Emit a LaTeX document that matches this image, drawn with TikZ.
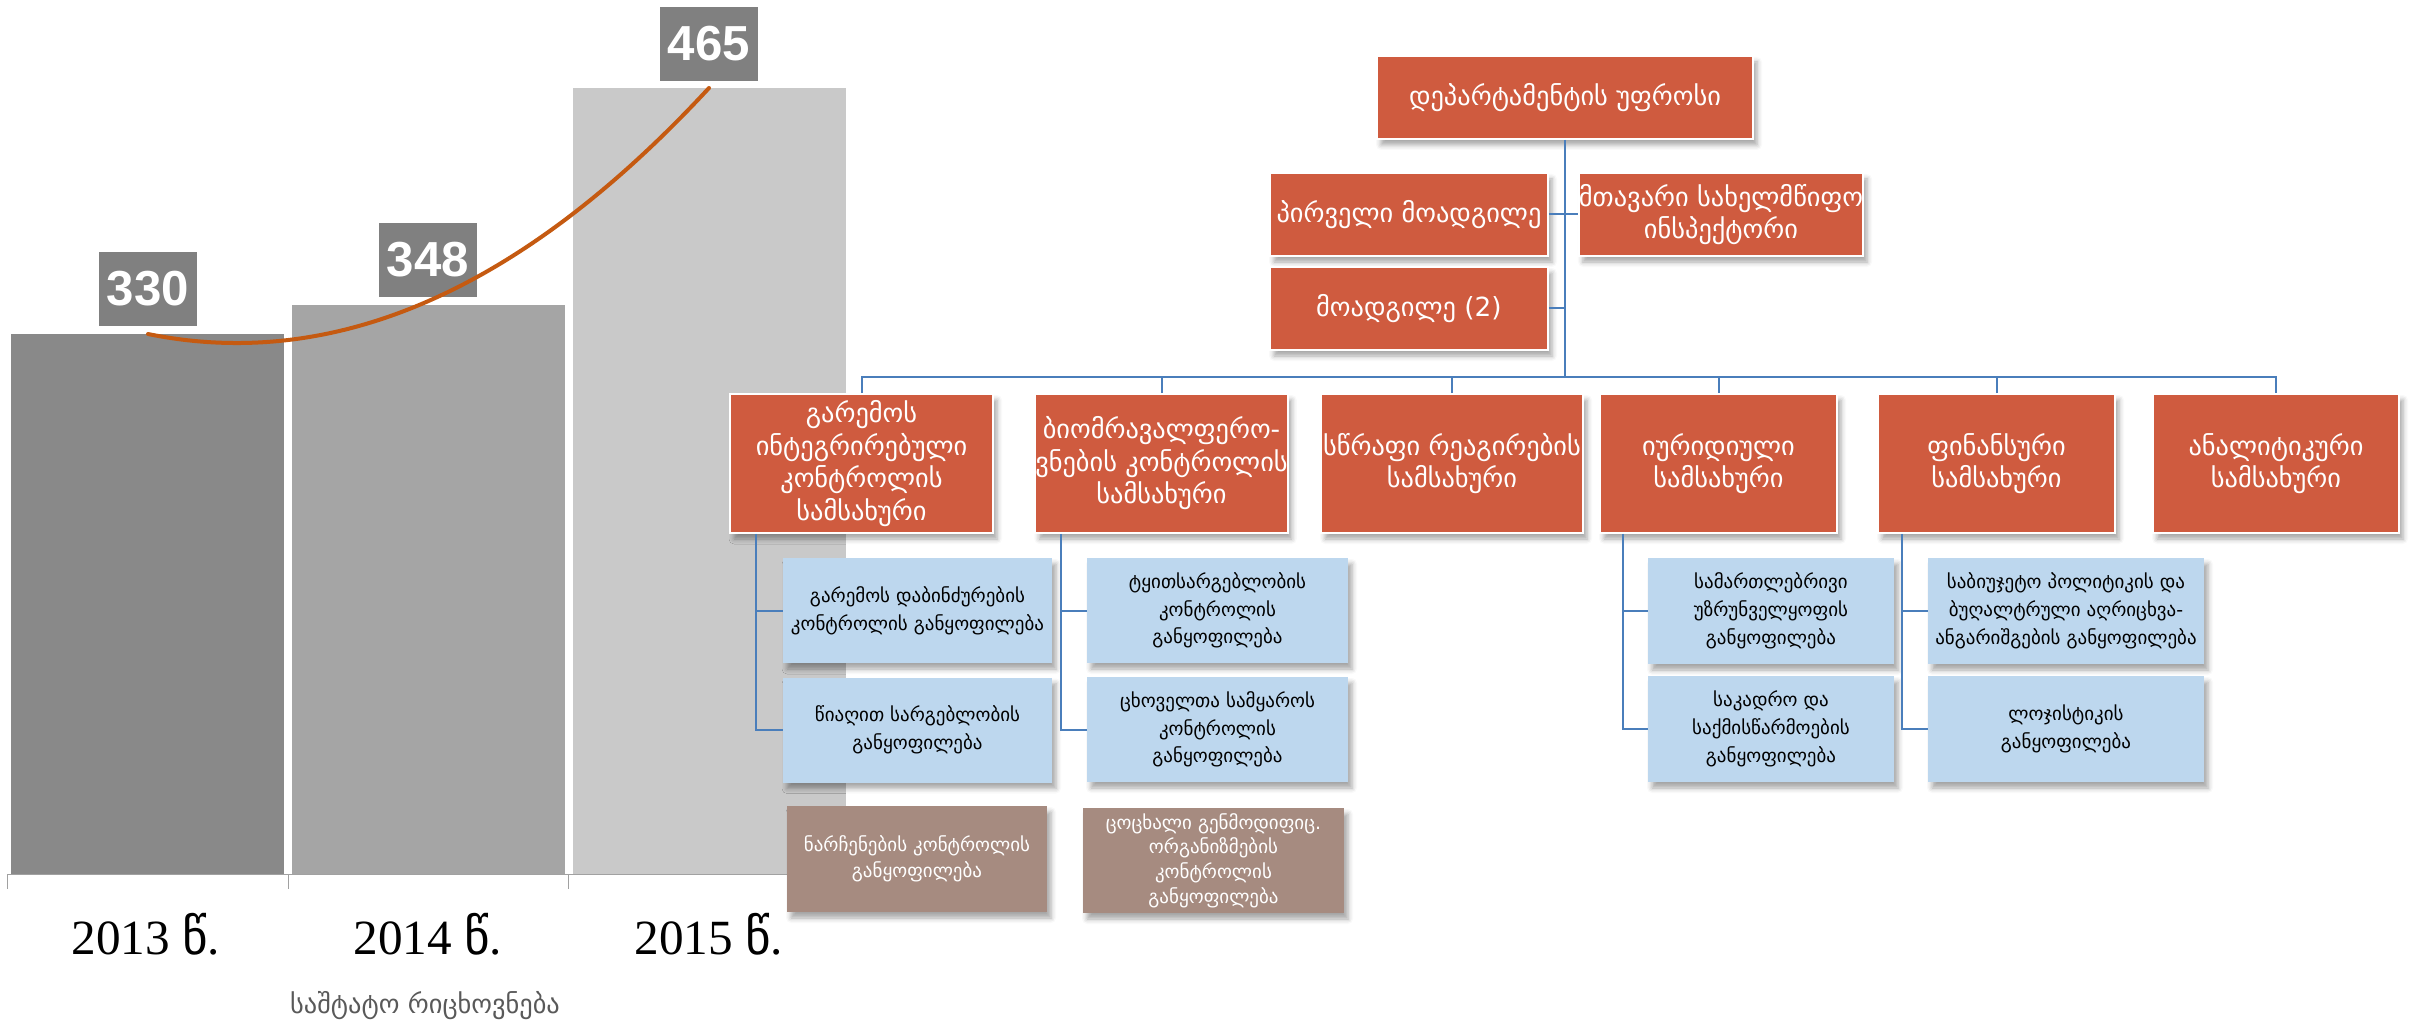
\documentclass[tikz,border=0pt]{standalone}
\usepackage{fontspec}
\usepackage{tikz}
\usetikzlibrary{calc,shadows.blur}
\setmainfont{Liberation Serif}
\newfontfamily\geo{DejaVu Sans}
\newfontfamily\numfont{Liberation Sans}
\definecolor{boxred}{HTML}{CF5B3F}
\definecolor{boxblue}{HTML}{BDD7EE}
\definecolor{boxbrown}{HTML}{A68B80}
\definecolor{linkblue}{HTML}{4A7EBB}
\definecolor{trendorange}{HTML}{C55A11}
\definecolor{barone}{HTML}{898989}
\definecolor{bartwo}{HTML}{A5A5A5}
\definecolor{barthree}{HTML}{C9C9C9}
\definecolor{valgrey}{HTML}{808080}
\definecolor{captiongrey}{HTML}{595959}

\begin{document}
\begin{tikzpicture}[x=0.2mm,y=-0.2mm,
    wh/.style 2 args={minimum width=#1*0.2mm,minimum height=#2*0.2mm},
    unit/.style={align=center,inner sep=0pt,
      blur shadow={shadow xshift=0.8mm,shadow yshift=-1.2mm,shadow blur radius=1mm,shadow opacity=35}},
    redbox/.style={unit,fill=boxred,draw=white,line width=0.35mm,text=white,font=\geo\fontsize{15}{18.5}\selectfont},
    bluebox/.style={unit,fill=boxblue,text=black,font=\geo\fontsize{10.8}{15.8}\selectfont},
    brownbox/.style={unit,fill=boxbrown,text=white,font=\geo\fontsize{10.8}{15}\selectfont},
    valbox/.style={fill=valgrey,text=white,wh={98}{74},inner sep=0pt,font=\numfont\bfseries\fontsize{28}{30}\selectfont},
    year/.style={anchor=base,font=\fontsize{28}{30}\selectfont},
    link/.style={draw=linkblue,line width=0.4mm},
    trend/.style={draw=trendorange,line width=0.8mm,line cap=round}]
\useasboundingbox (0,0) rectangle (2414,1025);

\fill[barone] (11,334) rectangle (284,874);
\fill[bartwo] (292,305) rectangle (565,874);
\fill[barthree] (573,88) rectangle (846,874);
\draw[barthree!80!black,line width=0.2mm] (7,874) -- (849,874);
\foreach \tx in {7,288,568,849}
  \draw[barthree!80!black,line width=0.2mm] (\tx,874) -- (\tx,889);

\node[valbox] (v13) at (148,289) {330};
\node[valbox] (v14) at (428,260) {348};
\node[valbox] (v15) at (709,44) {465};
\draw[trend] (148,334) .. controls (335,372) and (522,290) .. (709,88);

\node[year] (y13) at (146,954) {2013 {\geo წ}.};
\node[year] (y14) at (428,954) {2014 {\geo წ}.};
\node[year] (y15) at (709,954) {2015 {\geo წ}.};
\node[text=captiongrey,font=\geo\fontsize{15}{18}\selectfont] (staff) at (425,1006) {საშტატო რიცხოვნება};

\node[redbox,wh={376}{83}] (head) at (1565,97.5) {დეპარტამენტის უფროსი};
\node[redbox,wh={278}{83}] (dep1) at (1409,214.5) {პირველი მოადგილე};
\node[redbox,wh={278}{83}] (insp) at (1721,214.5) {მთავარი სახელმწიფო\\ინსპექტორი};
\node[redbox,wh={278}{83}] (dep2) at (1409,308.5) {მოადგილე (2)};

\node[redbox,wh={263}{139}] (s1) at (861.5,463.5) {გარემოს\\ინტეგრირებული\\კონტროლის\\სამსახური};
\node[redbox,wh={247}{139}] (s2) at (1161.5,463.5) {ბიომრავალფერო-\\ვნების კონტროლის\\სამსახური};
\node[redbox,wh={262}{139}] (s3) at (1452,463.5) {სწრაფი რეაგირების\\სამსახური};
\node[redbox,wh={237}{139}] (s4) at (1718.5,463.5) {იურიდიული\\სამსახური};
\node[redbox,wh={237}{139}] (s5) at (1996.5,463.5) {ფინანსური\\სამსახური};
\node[redbox,wh={246}{139}] (s6) at (2276,463.5) {ანალიტიკური\\სამსახური};

\node[bluebox,wh={269}{105}] (a1) at (917.5,610.5) {გარემოს დაბინძურების\\კონტროლის განყოფილება};
\node[bluebox,wh={269}{105}] (a2) at (917.5,730) {წიაღით სარგებლობის\\განყოფილება};
\node[bluebox,wh={261}{105}] (b1) at (1217.5,610.5) {ტყითსარგებლობის\\კონტროლის\\განყოფილება};
\node[bluebox,wh={261}{105}] (b2) at (1217.5,729.5) {ცხოველთა სამყაროს\\კონტროლის\\განყოფილება};
\node[brownbox,wh={260}{106}] (n1) at (917,859) {ნარჩენების კონტროლის\\განყოფილება};
\node[brownbox,wh={261}{105},font=\geo\fontsize{10.8}{14}\selectfont] (n2) at (1213.5,860.5) {ცოცხალი გენმოდიფიც.\\ორგანიზმების\\კონტროლის\\განყოფილება};
\node[bluebox,wh={246}{106}] (d1) at (1771,611) {სამართლებრივი\\უზრუნველყოფის\\განყოფილება};
\node[bluebox,wh={246}{106}] (d2) at (1771,729) {საკადრო და\\საქმისწარმოების\\განყოფილება};
\node[bluebox,wh={276}{106}] (c1) at (2066,611) {საბიუჯეტო პოლიტიკის და\\ბუღალტრული აღრიცხვა-\\ანგარიშგების განყოფილება};
\node[bluebox,wh={276}{106}] (c2) at (2066,729) {ლოჯისტიკის\\განყოფილება};

\coordinate (bus) at (1565,377);
\draw[link] (head.south) -- (bus);
\draw[link] (dep1.east) -- (insp.west);
\draw[link] (dep2.east) -- (dep2.east -| bus);
\draw[link] (s1.north) -- (s1.north |- bus) -- (s6.north |- bus) -- (s6.north);
\foreach \s in {s2,s3,s4,s5}
  \draw[link] (\s.north) -- (\s.north |- bus);

\coordinate (k1) at ($(s1.west)!.5!(a1.west)$);
\coordinate (k2) at ($(s2.west)!.5!(b1.west)$);
\coordinate (k4) at ($(s4.west)!.5!(d1.west)$);
\coordinate (k5) at ($(s5.west)!.5!(c1.west)$);
\draw[link] (k1 |- s1.south) |- (a2.west) (k1 |- a1.west) -- (a1.west);
\draw[link] (k2 |- s2.south) |- (b2.west) (k2 |- b1.west) -- (b1.west);
\draw[link] (k4 |- s4.south) |- (d2.west) (k4 |- d1.west) -- (d1.west);
\draw[link] (k5 |- s5.south) |- (c2.west) (k5 |- c1.west) -- (c1.west);
\end{tikzpicture}
\end{document}
